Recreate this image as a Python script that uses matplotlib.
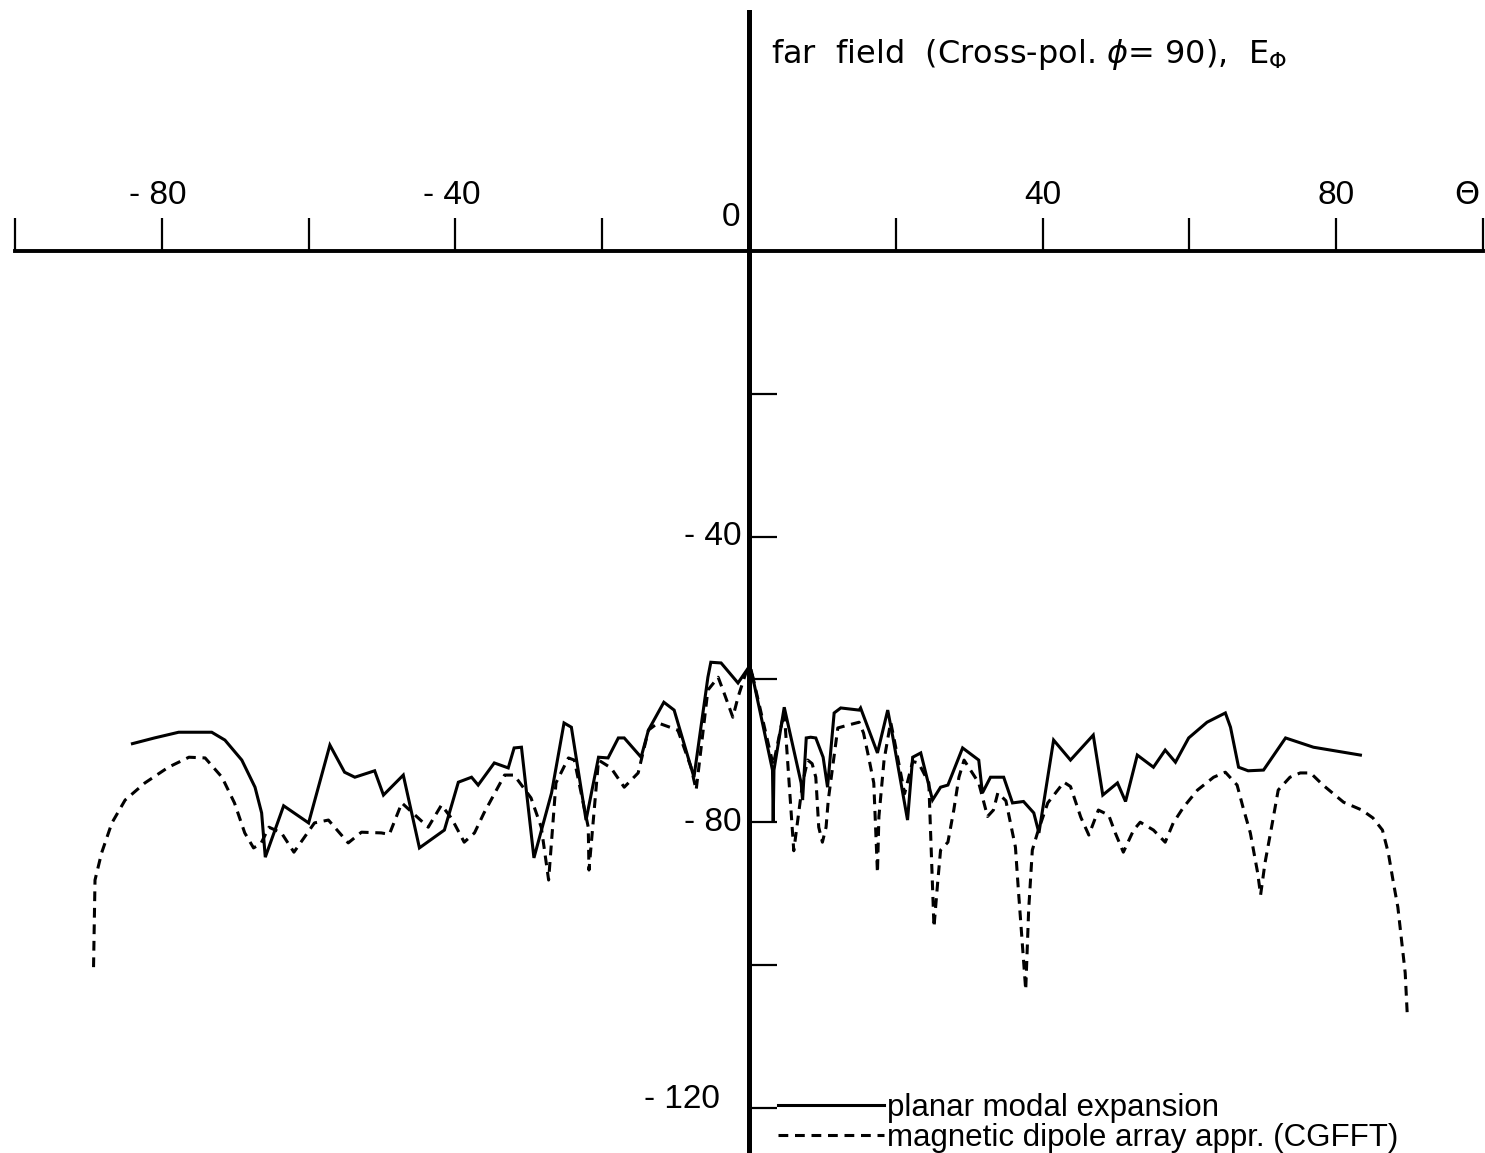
import matplotlib
matplotlib.use("Agg")
import matplotlib.pyplot as plt
import numpy as np

# Cross-polar far field E_phi (dB) versus theta (deg), phi = 90
theta_modal = [-84.0, -81.0, -77.7, -73.2, -71.4, -69.1, -67.3, -66.4, -65.9, -63.4,
               -60.0, -57.1, -55.1, -53.7, -51.0, -49.8, -47.1, -44.9, -41.5, -39.6,
               -37.8, -36.9, -34.7, -32.8, -32.0, -31.0, -29.3, -26.9, -25.2, -24.2,
               -22.2, -20.5, -19.2, -17.8, -17.0, -14.7, -13.7, -11.6, -10.2, -7.5,
               -5.6, -5.2, -3.8, -1.5, -0.1, 0.3, 3.2, 3.3, 3.4, 4.8,
               7.1, 7.3, 7.8, 8.4, 9.1, 10.1, 10.7, 11.6, 12.5, 15.0,
               15.2, 17.5, 18.9, 19.6, 21.6, 22.3, 23.4, 25.0, 26.1, 27.1,
               29.1, 31.3, 31.8, 32.9, 34.7, 35.9, 37.4, 38.8, 39.5, 41.5,
               43.8, 46.9, 48.2, 50.2, 51.3, 52.9, 55.1, 56.7, 58.1, 59.9,
               62.4, 64.9, 65.6, 66.7, 68.0, 70.1, 73.1, 76.9, 83.3]
level_modal = [-69.0, -68.2, -67.4, -67.4, -68.5, -71.3, -75.1, -78.7, -84.9, -77.7,
               -80.1, -69.2, -73.0, -73.7, -72.8, -76.2, -73.4, -83.6, -81.1, -74.4,
               -73.7, -74.8, -71.7, -72.4, -69.6, -69.5, -85.0, -75.9, -66.1, -66.7,
               -79.7, -70.9, -71.0, -68.2, -68.2, -70.9, -67.1, -63.2, -64.3, -73.7,
               -59.7, -57.6, -57.7, -60.5, -58.4, -58.7, -72.7, -80.0, -72.7, -63.9,
               -74.5, -76.9, -68.2, -68.1, -68.2, -70.9, -75.1, -64.7, -64.0, -64.3,
               -64.0, -70.3, -64.3, -68.1, -79.7, -70.9, -70.3, -76.9, -75.1, -74.8,
               -69.6, -71.3, -75.9, -73.7, -73.7, -77.3, -77.1, -78.7, -81.5, -68.5,
               -71.3, -67.8, -76.2, -74.5, -77.1, -70.6, -72.3, -69.9, -71.6, -68.2,
               -66.0, -64.7, -66.7, -72.3, -72.8, -72.7, -68.2, -69.5, -70.6]

theta_cgfft = [-89.3, -89.1, -88.2, -86.8, -85.0, -82.3, -79.1, -76.3, -74.1, -71.8,
               -70.1, -68.7, -67.5, -66.5, -65.4, -63.7, -62.0, -59.2, -57.3, -54.6,
               -52.8, -50.1, -49.0, -47.3, -45.5, -43.7, -41.9, -40.5, -38.8, -37.4,
               -36.1, -33.3, -32.0, -29.7, -28.3, -27.3, -26.3, -24.6, -23.8, -21.9,
               -21.8, -20.5, -18.8, -17.0, -15.1, -13.7, -12.4, -9.7, -7.9, -7.2,
               -5.6, -4.2, -3.4, -2.2, -1.5, -0.4, 0.3, 3.3, 4.8, 6.1,
               7.3, 8.0, 8.6, 9.1, 9.5, 10.0, 10.5, 10.8, 12.1, 13.5,
               15.0, 15.6, 16.3, 17.0, 17.5, 17.7, 18.4, 19.3, 19.8, 21.2,
               22.3, 23.1, 24.5, 25.2, 25.7, 26.1, 27.1, 27.9, 28.6, 29.3,
               31.3, 32.5, 33.3, 33.9, 35.0, 36.3, 36.7, 37.7, 38.1, 38.6,
               39.3, 40.7, 42.9, 43.8, 45.2, 46.3, 47.6, 49.0, 49.9, 51.0,
               52.4, 53.3, 55.1, 56.7, 57.8, 59.2, 61.1, 63.3, 64.9, 66.5,
               67.3, 68.3, 69.3, 69.7, 70.3, 71.3, 72.1, 73.7, 75.1, 76.5,
               78.2, 81.0, 83.5, 85.0, 86.3, 87.1, 87.8, 88.4, 88.9, 89.4,
               89.7]
level_cgfft = [-100.3, -88.1, -84.3, -80.1, -76.9, -74.5, -72.3, -70.9, -71.0, -73.7,
               -77.3, -81.5, -83.6, -83.0, -80.7, -81.5, -84.2, -80.1, -79.7, -82.9,
               -81.4, -81.5, -81.7, -77.3, -79.0, -80.7, -77.6, -79.5, -82.8, -81.5,
               -78.7, -73.4, -73.4, -76.6, -80.7, -88.1, -74.5, -71.0, -71.3, -80.7,
               -86.7, -71.3, -72.4, -75.1, -73.1, -67.1, -66.1, -67.1, -72.3, -75.5,
               -61.5, -59.7, -61.9, -65.3, -62.5, -59.0, -58.7, -72.0, -64.5, -84.0,
               -74.5, -71.3, -71.8, -73.7, -80.7, -82.8, -80.7, -76.9, -66.8, -66.4,
               -66.0, -67.5, -70.9, -74.5, -87.1, -79.2, -71.3, -66.0, -68.5, -76.0,
               -71.5, -71.7, -74.5, -94.7, -88.5, -83.9, -82.8, -78.3, -73.7, -71.3,
               -74.5, -79.2, -78.3, -75.9, -77.0, -83.5, -89.5, -103.5, -92.3, -83.9,
               -81.5, -77.3, -74.4, -75.0, -79.3, -81.8, -78.3, -79.0, -81.5, -84.2,
               -81.1, -80.0, -81.1, -82.8, -80.1, -77.9, -75.5, -73.7, -73.0, -74.8,
               -77.9, -81.5, -87.1, -90.2, -85.7, -80.1, -75.5, -73.7, -73.1, -73.1,
               -74.8, -77.2, -78.3, -79.4, -81.1, -84.3, -88.5, -91.9, -96.5, -101.1,
               -107.3]

x_ticks = [-100, -80, -60, -40, -20, 20, 40, 60, 80, 100]
y_ticks = [-20, -40, -60, -80, -100, -120]
x_labels = {-80: "- 80", -40: "- 40", 40: "40", 80: "80"}
y_labels = {-40: "- 40", -80: "- 80", -120: "- 120"}

series_names = ["planar modal expansion", "magnetic dipole array appr. (CGFFT)"]
title_text = r"far  field  (Cross-pol. $\phi$= 90),  E$_\Phi$"

W, H = 1485, 1153
fig = plt.figure(figsize=(W / 100, H / 100), dpi=100)
fig.patch.set_facecolor("white")
ax = fig.add_axes([15 / W, 0, 1468 / W, (H - 12) / H])
ax.set_xlim(-100, 100)
ax.set_ylim(-126.33, 33.47)
ax.set_facecolor("none")

for side in ("top", "right"):
    ax.spines[side].set_visible(False)
ax.spines["left"].set_position(("data", 0))
ax.spines["bottom"].set_position(("data", 0))
ax.spines["left"].set_linewidth(3.6)
ax.spines["bottom"].set_linewidth(2.8)

ax.set_xticks(x_ticks)
ax.set_yticks(y_ticks)
ax.tick_params(axis="x", direction="in", length=24, width=1.6, labelbottom=False)
ax.tick_params(axis="y", direction="in", length=20, width=1.6, labelleft=False)

lw = 2.2
l1, = ax.plot(theta_modal, level_modal, color="black", lw=lw, solid_joinstyle="miter")
l2, = ax.plot(theta_cgfft, level_cgfft, color="black", lw=lw, ls=(0, (3.2, 2.2)))

num_font = dict(family=["Liberation Sans", "DejaVu Sans"], fontsize=24, color="black")
for xv, s in x_labels.items():
    if xv < 0:
        ax.text(xv + 3.4, 6.6, s, ha="right", va="baseline", **num_font)
    else:
        ax.text(xv, 6.6, s, ha="center", va="baseline", **num_font)
ax.text(-2.5, 3.5, "0", ha="center", va="baseline", **num_font)
ax.text(97.8, 7.8, "Θ", ha="center", va="center",
        family=["DejaVu Sans"], fontsize=23, color="black")

for yv, s in y_labels.items():
    xr = -1.0 if yv > -100 else -3.9
    yc = yv if yv > -100 else -118.9
    ax.text(xr, yc, s, ha="right", va="center", **num_font)

ax.text(3.0, 26.3, title_text, ha="left", va="baseline",
        family=["DejaVu Sans"], fontsize=23, color="black")

leg = ax.legend([l1, l2], series_names, loc="lower left",
                bbox_to_anchor=(778 / W, 0.0), bbox_transform=fig.transFigure,
                frameon=False, borderpad=0.0, borderaxespad=0, handlelength=3.4,
                handletextpad=0.1, labelspacing=0.0,
                prop={"family": ["Liberation Sans Narrow", "Liberation Sans"], "size": 22.5})

fig.savefig("out.png", dpi=100, facecolor="white")
